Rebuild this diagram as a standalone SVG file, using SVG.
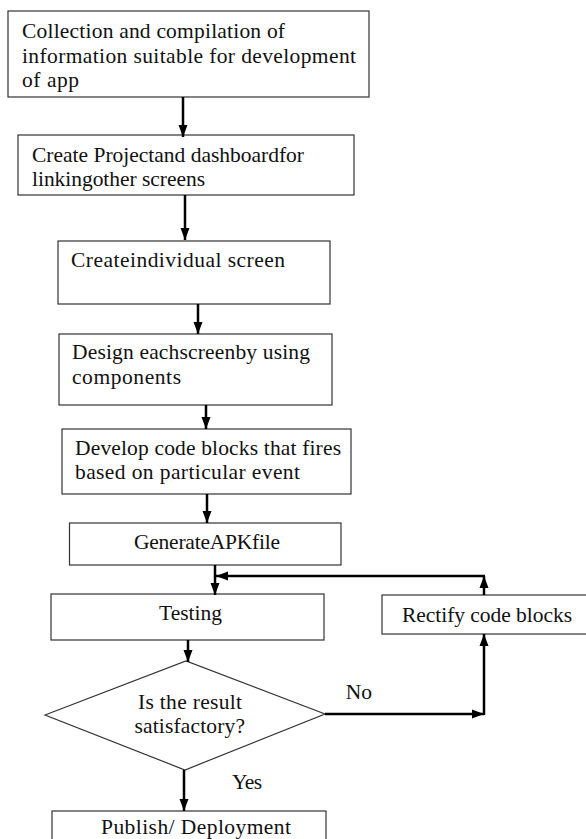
<svg xmlns="http://www.w3.org/2000/svg" width="586" height="839" viewBox="0 0 586 839">
<style>
  .box { fill: #ffffff; stroke: #333333; stroke-width: 1.2; }
  .t { font-family: "Liberation Serif", "Times New Roman", serif; font-size: 21.5px; fill: #111111; }
  .c { stroke: #000000; stroke-width: 2.5; fill: none; marker-end: url(#ah); }
</style>
<defs>
  <marker id="ah" markerUnits="userSpaceOnUse" markerWidth="12" markerHeight="10" refX="12" refY="5" orient="auto">
    <path d="M0,0.5 L12,5 L0,9.5 z" fill="#000000"/>
  </marker>
</defs>
<rect width="586" height="839" fill="#ffffff"/>

<g id="n1">
  <rect class="box" x="8" y="11" width="361" height="86"/>
  <text class="t" x="22" y="38" textLength="263">Collection and compilation of</text>
  <text class="t" x="22" y="63" textLength="334">information suitable for development</text>
  <text class="t" x="22" y="87" textLength="57">of app</text>
</g>
<g id="n2">
  <rect class="box" x="18" y="135" width="336" height="60"/>
  <text class="t" x="32" y="162" textLength="272">Create Projectand dashboardfor</text>
  <text class="t" x="32" y="186" textLength="173">linkingother screens</text>
</g>
<g id="n3">
  <rect class="box" x="58" y="241" width="272" height="63"/>
  <text class="t" x="71" y="267" textLength="214">Createindividual screen</text>
</g>
<g id="n4">
  <rect class="box" x="59" y="334" width="273" height="71"/>
  <text class="t" x="72" y="359" textLength="238">Design eachscreenby using</text>
  <text class="t" x="72" y="384" textLength="109">components</text>
</g>
<g id="n5">
  <rect class="box" x="62" y="429" width="289" height="65"/>
  <text class="t" x="75" y="455" textLength="266">Develop code blocks that fires</text>
  <text class="t" x="75" y="479" textLength="225">based on particular event</text>
</g>
<g id="n6">
  <rect class="box" x="69.5" y="523" width="271.5" height="42"/>
  <text class="t" x="134" y="549" textLength="146">GenerateAPKfile</text>
</g>
<g id="n7">
  <rect class="box" x="51" y="594" width="273" height="46"/>
  <text class="t" x="159" y="620" textLength="63">Testing</text>
</g>
<g id="n8">
  <rect class="box" x="382" y="595" width="210" height="39"/>
  <text class="t" x="402" y="621.5" textLength="170">Rectify code blocks</text>
</g>
<g id="n9">
  <polygon class="box" points="45,715 186,661 325,714 185,770"/>
  <text class="t" x="138" y="709" textLength="104">Is the result</text>
  <text class="t" x="134.5" y="733" textLength="110.5">satisfactory?</text>
</g>
<g id="n10">
  <rect class="box" x="52" y="811" width="274" height="45"/>
  <text class="t" x="101" y="834" textLength="190">Publish/ Deployment</text>
</g>

<g id="connectors">
  <line class="c" x1="183" y1="97" x2="183" y2="137"/>
  <line class="c" x1="185" y1="195" x2="185" y2="240"/>
  <line class="c" x1="198" y1="304" x2="198" y2="334"/>
  <line class="c" x1="206" y1="405" x2="206" y2="429"/>
  <line class="c" x1="207" y1="494" x2="207" y2="523"/>
  <line class="c" x1="215" y1="565" x2="215" y2="595"/>
  <line class="c" x1="484" y1="595" x2="484" y2="576"/>
  <line class="c" x1="485" y1="576" x2="216" y2="576"/>
  <line class="c" x1="188" y1="640" x2="188" y2="662"/>
  <line class="c" x1="325" y1="714" x2="484" y2="714"/>
  <line class="c" x1="484" y1="715" x2="484" y2="634"/>
  <line class="c" x1="184" y1="770" x2="184" y2="811"/>
  <text class="t" x="345.7" y="699" textLength="26.3">No</text>
  <text class="t" x="232" y="789" textLength="30">Yes</text>
</g>
</svg>
